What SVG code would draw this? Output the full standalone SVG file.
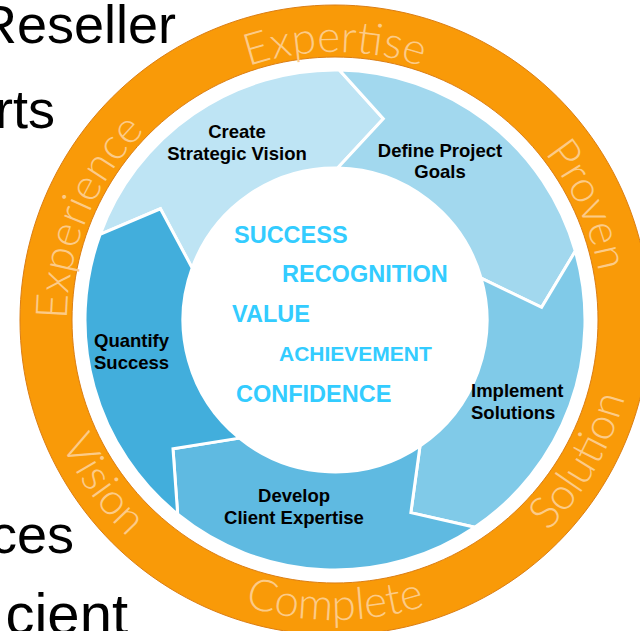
<svg xmlns="http://www.w3.org/2000/svg" width="640" height="631" viewBox="0 0 640 631">
<style>
.bg{font-family:"Liberation Sans",Arial,sans-serif;font-size:54px;fill:#000}
.ring{font-family:Lato,"Open Sans","DejaVu Sans",sans-serif;font-weight:300;font-size:44px;fill:#FCCB88}
.seg{stroke:#fff;stroke-width:3;stroke-linejoin:miter}
.lbl{font-family:"Liberation Sans",Arial,sans-serif;font-weight:bold;font-size:18.5px;fill:#000}
.val{font-family:"Liberation Sans",Arial,sans-serif;font-weight:bold;font-size:23.5px;fill:#33CCFF}
</style>
<defs>
<path id="topArc" d="M335,588 A268,268 0 1 1 335,52 A268,268 0 1 1 335,588"/>
<path id="botArc" d="M335,20 A300,300 0 1 0 335,620 A300,300 0 1 0 335,20"/>
</defs>
<rect width="640" height="631" fill="#fff"/>
<g id="slide-text">
<text class="bg" x="-22" y="43">Reseller</text>
<text class="bg" x="55" y="128" text-anchor="end">rts</text>
<text class="bg" x="74" y="553" text-anchor="end">ces</text>
<text class="bg" x="128" y="634" text-anchor="end" style="font-size:58px">cient</text>
</g>
<g id="orange-ring">
<path d="M335,5 A315,315 0 1 1 334.99,5 Z M335,57 A263,263 0 1 0 335.01,57 Z" fill="#F99A08" fill-rule="evenodd" stroke="#DB7E14" stroke-width="1"/>
<text class="ring" text-anchor="middle"><textPath href="#topArc" startOffset="31.25%">Experience</textPath></text>
<text class="ring" text-anchor="middle"><textPath href="#topArc" startOffset="50%">Expertise</textPath></text>
<text class="ring" text-anchor="middle"><textPath href="#topArc" startOffset="68.2%">Proven</textPath></text>
<text class="ring" text-anchor="middle"><textPath href="#botArc" startOffset="34.8%">Vision</textPath></text>
<text class="ring" text-anchor="middle"><textPath href="#botArc" startOffset="50%">Complete</textPath></text>
<text class="ring" text-anchor="middle"><textPath href="#botArc" startOffset="66.7%">Solution</textPath></text>
</g>
<g id="create">
<path class="seg" fill="#BEE4F4" d="M100.08,234.49 A250,250 0 0 1 339.36,70.04 L383.32,118.72 L337.65,168.02 A152,152 0 0 0 192.17,268.01 L160.42,208.78 Z"/>
<text class="lbl" text-anchor="middle"><tspan x="237" y="138">Create</tspan><tspan x="237" y="160">Strategic Vision</tspan></text>
</g>
<g id="define">
<path class="seg" fill="#A2D8EE" d="M339.36,70.04 A250,250 0 0 1 575.32,251.09 L541.61,307.36 L481.11,278.10 A152,152 0 0 0 337.65,168.02 L383.32,118.72 Z"/>
<text class="lbl" text-anchor="middle"><tspan x="440" y="157">Define Project</tspan><tspan x="440" y="178">Goals</tspan></text>
</g>
<g id="implement">
<path class="seg" fill="#80CAE8" d="M575.32,251.09 A250,250 0 0 1 474.80,527.26 L410.87,512.60 L420.00,446.01 A152,152 0 0 0 481.11,278.10 L541.61,307.36 Z"/>
<text class="lbl"><tspan x="471" y="397">Implement</tspan><tspan x="471" y="419">Solutions</tspan></text>
</g>
<g id="develop">
<path class="seg" fill="#5FBAE1" d="M474.80,527.26 A250,250 0 0 1 177.67,514.29 L173.00,448.86 L239.34,438.13 A152,152 0 0 0 420.00,446.01 L410.87,512.60 Z"/>
<text class="lbl" text-anchor="middle"><tspan x="294" y="502">Develop</tspan><tspan x="294" y="524">Client Expertise</tspan></text>
</g>
<g id="quantify">
<path class="seg" fill="#42AEDC" d="M177.67,514.29 A250,250 0 0 1 100.08,234.49 L160.42,208.78 L192.17,268.01 A152,152 0 0 0 239.34,438.13 L173.00,448.86 Z"/>
<text class="lbl"><tspan x="94" y="347">Quantify</tspan><tspan x="94" y="369">Success</tspan></text>
</g>
<g id="values">
<text class="val" x="234" y="243">SUCCESS</text>
<text class="val" x="282" y="282">RECOGNITION</text>
<text class="val" x="232" y="322">VALUE</text>
<text class="val" x="279" y="361" style="font-size:21px">ACHIEVEMENT</text>
<text class="val" x="236" y="402">CONFIDENCE</text>
</g>
</svg>
